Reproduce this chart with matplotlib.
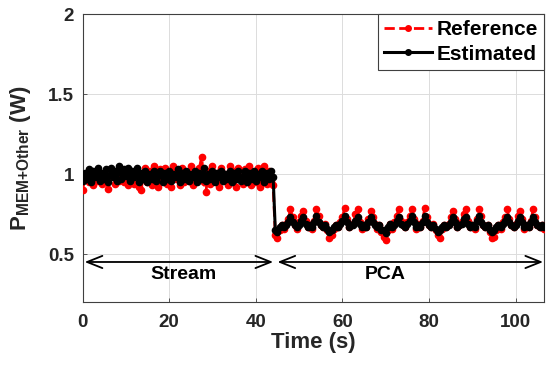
import numpy as np
import matplotlib
matplotlib.use("Agg")
import matplotlib.pyplot as plt

plt.rcParams["font.family"] = ["Liberation Sans", "DejaVu Sans"]
plt.rcParams["font.weight"] = "bold"
plt.rcParams["mathtext.fontset"] = "custom"
plt.rcParams["mathtext.bf"] = "Liberation Sans:bold"
plt.rcParams["mathtext.rm"] = "Liberation Sans:bold"

# === Datos (muestreo cada 0.5 s, 0 .. 106.5 s) ===
T_STEP = 0.5
T_END = 106.5

# Stream: 0 .. 44 s (89 muestras)
stream_ref = [
    0.90, 0.97, 1.00, 0.95, 0.99, 0.93, 1.01, 0.96, 0.98, 0.94,
    1.00, 0.95, 0.91, 0.98, 1.02, 0.94, 0.99, 0.96, 1.03, 0.95,
    0.98, 0.93, 1.01, 0.97, 0.94, 1.00, 0.92, 0.90, 0.98,
    1.04, 0.95, 1.02, 0.93, 1.05, 0.97, 0.92, 1.03, 0.96, 1.04,
    0.94, 1.00, 0.92, 1.05, 0.97, 1.02, 0.93, 1.04, 0.95, 1.01,
    0.96, 1.05, 0.93, 1.00, 0.97, 1.04, 1.11, 0.95, 0.89, 1.02,
    0.94, 1.05, 0.96, 1.01, 0.92, 1.04, 0.97, 1.00, 0.93, 1.05,
    0.95, 1.02, 0.92, 1.04, 0.98, 0.94, 1.03, 0.96, 1.05, 0.93,
    1.01, 0.95, 1.04, 0.92, 0.99, 1.05, 0.94, 1.02, 0.96, 0.93,
]
stream_est = [
    0.96, 1.01, 0.97, 1.03, 0.95, 1.02, 0.98, 1.04, 0.96, 1.01,
    0.97, 1.03, 0.95, 1.04, 0.98, 1.02, 0.96, 1.05, 0.97, 1.03,
    0.99, 1.04, 0.96, 1.02, 0.98, 1.04, 0.95, 1.01, 0.97,
    1.02, 0.95, 1.00, 0.97, 1.02, 0.96, 0.99, 1.02, 0.95, 1.01,
    0.97, 1.02, 0.96, 1.00, 0.98, 1.03, 0.95, 1.01, 0.97, 1.02,
    0.96, 1.00, 0.98, 1.02, 0.95, 1.01, 0.97, 1.04, 0.96, 1.00,
    0.97, 1.02, 0.95, 1.01, 0.98, 1.02, 0.96, 1.00, 0.97, 1.02,
    0.95, 1.01, 0.97, 1.02, 0.96, 0.99, 1.02, 0.95, 1.01, 0.97,
    1.02, 0.96, 1.00, 0.98, 1.02, 0.95, 1.01, 0.97, 1.02, 0.98,
]

# PCA: 44.5 .. 106.5 s (125 muestras)
pca_ref = [
    0.62, 0.60, 0.65, 0.68, 0.66, 0.69, 0.72, 0.78, 0.73, 0.68,
    0.66, 0.70, 0.74, 0.77, 0.71, 0.67, 0.68, 0.66, 0.71, 0.78,
    0.74, 0.68, 0.67, 0.69, 0.65,
    0.60, 0.62, 0.66, 0.68, 0.67, 0.70, 0.73, 0.79, 0.72, 0.67,
    0.68, 0.69, 0.75, 0.78, 0.70, 0.66, 0.68, 0.67, 0.72, 0.77,
    0.73, 0.69, 0.66, 0.68, 0.64,
    0.61, 0.59, 0.65, 0.69, 0.66, 0.70, 0.74, 0.78, 0.71, 0.68,
    0.67, 0.70, 0.74, 0.78, 0.72, 0.66, 0.69, 0.67, 0.71, 0.79,
    0.73, 0.68, 0.67, 0.69, 0.65,
    0.62, 0.60, 0.66, 0.68, 0.67, 0.69, 0.73, 0.77, 0.72, 0.67,
    0.68, 0.70, 0.75, 0.78, 0.71, 0.67, 0.68, 0.66, 0.72, 0.78,
    0.74, 0.68, 0.67, 0.68, 0.64,
    0.60, 0.61, 0.65, 0.68, 0.66, 0.70, 0.73, 0.78, 0.72, 0.68,
    0.67, 0.69, 0.74, 0.77, 0.72, 0.66, 0.68, 0.67, 0.71, 0.78,
    0.73, 0.68, 0.67, 0.68, 0.66,
]
pca_est = [
    0.65, 0.64, 0.67, 0.68, 0.67, 0.68, 0.70, 0.73, 0.70, 0.68,
    0.67, 0.68, 0.71, 0.73, 0.69, 0.67, 0.68, 0.67, 0.70, 0.74,
    0.70, 0.68, 0.67, 0.68, 0.66,
    0.64, 0.65, 0.67, 0.68, 0.67, 0.69, 0.71, 0.74, 0.70, 0.67,
    0.68, 0.68, 0.71, 0.73, 0.69, 0.67, 0.68, 0.67, 0.70, 0.73,
    0.70, 0.68, 0.67, 0.68, 0.65,
    0.65, 0.63, 0.67, 0.69, 0.67, 0.68, 0.71, 0.73, 0.69, 0.68,
    0.67, 0.69, 0.71, 0.74, 0.70, 0.67, 0.68, 0.67, 0.70, 0.74,
    0.70, 0.68, 0.67, 0.68, 0.66,
    0.64, 0.65, 0.67, 0.68, 0.67, 0.68, 0.70, 0.73, 0.70, 0.67,
    0.68, 0.69, 0.72, 0.73, 0.69, 0.67, 0.68, 0.67, 0.71, 0.74,
    0.70, 0.68, 0.67, 0.68, 0.65,
    0.64, 0.65, 0.67, 0.68, 0.67, 0.69, 0.71, 0.73, 0.70, 0.68,
    0.67, 0.68, 0.71, 0.73, 0.70, 0.67, 0.68, 0.67, 0.70, 0.73,
    0.70, 0.68, 0.67, 0.68, 0.67,
]

# Fases de la aplicación
PHASES = ["Stream", "PCA"]
PHASE_SPANS = [(0.5, 44.0), (45.0, 106.3)]
PHASE_LABEL_X = [23.4, 69.9]

XTICKS = [0, 20, 40, 60, 80, 100]
YTICKS = [0.5, 1, 1.5, 2]
YTICKLABELS = ["0.5", "1", "1.5", "2"]

time = np.arange(0, T_END + T_STEP / 2, T_STEP)
reference = np.array(stream_ref + pca_ref)
estimated = np.array(stream_est + pca_est)

TXT = "#262626"

fig = plt.figure(figsize=(5.5, 3.7), dpi=100)
ax = fig.add_axes([0.150, 0.185, 0.839, 0.777])

ax.plot(time, reference, color="red", linestyle="--", linewidth=2.0,
        marker="o", markersize=4.5, label="Reference", zorder=3)
ax.plot(time, estimated, color="black", linestyle="-", linewidth=2.2,
        marker="o", markersize=4.5, label="Estimated", zorder=4)

# Flechas de fases
arrow_y = 0.452
for name, (x0, x1), xl in zip(PHASES, PHASE_SPANS, PHASE_LABEL_X):
    ax.annotate("", xy=(x0, arrow_y), xytext=(x1, arrow_y),
                arrowprops=dict(arrowstyle="<->,head_length=0.55,head_width=0.22",
                                lw=1.3, color="black", mutation_scale=20,
                                shrinkA=0, shrinkB=0))
    ax.text(xl, 0.375, name, ha="center", va="center", fontsize=14,
            fontweight="bold", color="black")

ax.set_xlim(0, T_END)
ax.set_ylim(0.205, 2)
ax.set_xticks(XTICKS)
ax.set_yticks(YTICKS)
ax.set_yticklabels(YTICKLABELS)
ax.tick_params(direction="in", length=3, width=0.6, colors="#404040",
               labelcolor=TXT, labelsize=13.5)
ax.tick_params(axis="x", pad=9)
ax.tick_params(axis="y", pad=6)
ax.grid(True, color="#dcdcdc", linewidth=0.7)
ax.set_axisbelow(True)
for s in ax.spines.values():
    s.set_color("#404040")
    s.set_linewidth(0.8)

ax.set_xlabel("Time (s)", fontsize=16, fontweight="bold", color=TXT, labelpad=1)
ax.set_ylabel(r"$\mathbf{P_{MEM{+}Other}}$ (W)", fontsize=16, fontweight="bold",
              color=TXT, labelpad=11)

leg = ax.legend(loc="upper right", borderaxespad=0, fontsize=15, fancybox=False,
                handlelength=2.3, handletextpad=0.2, borderpad=0.3,
                labelspacing=0.25, framealpha=1)
leg.get_frame().set_edgecolor("#404040")
leg.get_frame().set_linewidth(0.8)
for t in leg.get_texts():
    t.set_fontweight("bold")
for h in leg.legend_handles:
    h.set_markersize(4)

plt.savefig("out.png", dpi=100)
